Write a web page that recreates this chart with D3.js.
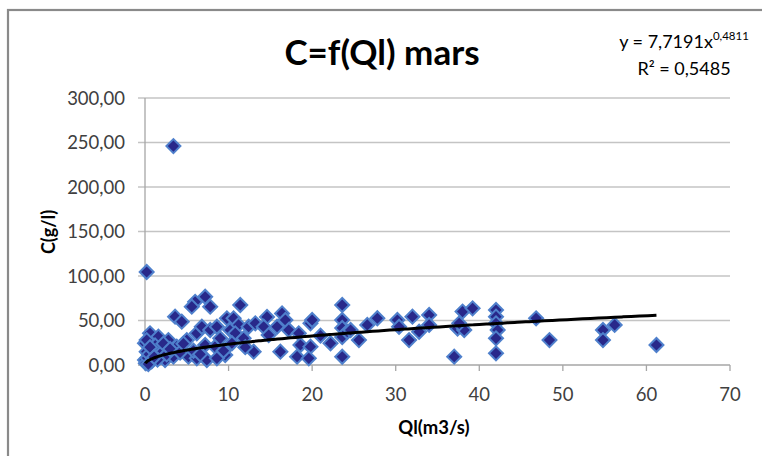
<!DOCTYPE html>
<html>
<head>
<meta charset="utf-8">
<script src="https://cdn.jsdelivr.net/npm/d3@7"></script>
<style>
  body { margin: 0; background: #fff; }
  text { font-family: Lato, "Open Sans", sans-serif; }
</style>
</head>
<body>
<div id="chart"></div>
<script>
// C (g/l) against Ql (m3/s)
const qValues = [
  3.4, 0.2,
  7.2, 6.0, 7.8, 5.6, 3.6, 4.4, 0.6, 1.6, 2.8, 3.8, 5.0, 0.0, 0.2, 0.0, 1.4, 2.4, 3.4, 5.2,
  6.2, 6.8, 7.8, 8.6, 7.2, 8.4, 9.0, 9.6, 9.8, 10.2, 6.2, 7.4, 8.6,
  0.1, 0.3, 0.5, 0.8, 1.0, 1.2, 0.2, 1.8, 2.0, 2.2, 0.6, 1.5, 2.6, 3.0, 4.2, 4.6, 5.8, 6.6, 0.4, 1.1,
  11.4, 10.6, 11.2, 10.8, 12.4, 13.2, 13.0, 14.6, 14.2, 14.8, 16.4, 16.8, 17.2, 16.2, 15.8, 18.4,
  18.2, 18.6, 19.8, 19.8, 19.6, 20.0, 22.2, 10.4, 11.8, 12.0, 9.4,
  23.6, 23.6, 23.6, 23.6, 23.6, 24.2, 25.6, 26.6, 27.8, 30.2, 30.4, 31.6, 32.0, 32.8, 34.0, 34.0,
  37.0, 37.4, 38.0, 38.2, 39.2, 42.0, 42.0, 42.0, 42.2, 42.0, 42.0, 46.8, 48.4, 54.8, 54.8, 56.2,
  61.2, 24.6, 37.6, 21.0
];
const cValues = [
  246, 104.5,
  76.7, 71, 65.5, 65.5, 54.3, 48.7, 35.6, 31.8, 28, 20.6, 28, 24.4, 15, 5.6, 15, 5.6, 9.4, 9.4,
  35.6, 43, 39.3, 43, 22.5, 20.6, 30, 11.2, 52.4, 39.3, 7.5, 5.6, 7.5,
  2, 8, 12, 4, 18, 22, 28, 10, 14, 24, 20, 6, 12, 18, 14, 24, 16, 12, 1, 9,
  67.4, 52.4, 45, 35.6, 43, 46.8, 15, 54, 43, 33.7, 58, 50.6, 39.3, 15, 43, 35.6,
  9.4, 22.5, 46.8, 20.6, 7.5, 50.6, 24.4, 24.4, 30, 20, 16,
  67.4, 50.6, 41.6, 31.5, 9.3, 37.4, 28, 45, 52.5, 50.6, 43, 28, 54.3, 37.4, 56.2, 45,
  9.4, 41, 60, 39.3, 63.7, 61.8, 54.3, 46.8, 39.3, 30, 13.1, 52.4, 28, 39.3, 28, 45,
  22.5, 39.3, 46.8, 33
];
const xTicks = [0, 10, 20, 30, 40, 50, 60, 70];
const yTicks = [0, 50, 100, 150, 200, 250, 300];

// power trend line shown on the chart: y = 7,7191 x^0,4811
const trendA = 7.7191;
const trendB = 0.4811;

const width = 762;
const height = 456;

const svg = d3.select('#chart')
  .append('svg')
  .attr('width', width)
  .attr('height', height);

// outer frame (cropped on right and bottom)
svg.append('rect')
  .attr('x', 8).attr('y', 10)
  .attr('width', 800).attr('height', 500)
  .attr('fill', '#fff')
  .attr('stroke', '#8a8a8a')
  .attr('stroke-width', 2.2);

const xScale = d3.scaleLinear().domain([0, 70]).range([145, 730]);
const yScale = d3.scaleLinear().domain([0, 300]).range([365, 98]);

const fmt = d => d3.format('.2f')(d).replace('.', ',');

// gridlines + y ticks
svg.append('g')
  .selectAll('line')
  .data(yTicks)
  .enter()
  .append('line')
  .attr('x1', 138)
  .attr('x2', xScale(70))
  .attr('y1', d => yScale(d))
  .attr('y2', d => yScale(d))
  .attr('stroke', d => d === 0 ? '#a6a6a6' : '#c4c4c4')
  .attr('stroke-width', 1.3);

// y axis line
svg.append('line')
  .attr('x1', xScale(0)).attr('x2', xScale(0))
  .attr('y1', yScale(300)).attr('y2', yScale(0))
  .attr('stroke', '#a6a6a6')
  .attr('stroke-width', 1.3);

// x ticks
svg.append('g')
  .selectAll('line')
  .data(xTicks)
  .enter()
  .append('line')
  .attr('x1', d => xScale(d))
  .attr('x2', d => xScale(d))
  .attr('y1', yScale(0))
  .attr('y2', yScale(0) + 6)
  .attr('stroke', '#a6a6a6')
  .attr('stroke-width', 1.3);

// tick labels
svg.append('g')
  .selectAll('text')
  .data(yTicks)
  .enter()
  .append('text')
  .attr('x', 125)
  .attr('y', d => yScale(d))
  .attr('dy', '0.36em')
  .attr('text-anchor', 'end')
  .attr('font-size', 18.5)
  .attr('fill', '#404040')
  .text(fmt);

svg.append('g')
  .selectAll('text')
  .data(xTicks)
  .enter()
  .append('text')
  .attr('x', d => xScale(d))
  .attr('y', 401)
  .attr('text-anchor', 'middle')
  .attr('font-size', 18.5)
  .attr('fill', '#404040')
  .text(d => d);

// points
const pts = qValues.map((q, i) => ({ q: q, c: cValues[i] }));

svg.append('g')
  .selectAll('path')
  .data(pts)
  .enter()
  .append('path')
  .attr('d', d3.symbol().type(d3.symbolSquare).size(98))
  .attr('transform', d => `translate(${xScale(d.q)},${yScale(d.c)}) rotate(45)`)
  .attr('fill', '#28288a')
  .attr('stroke', '#4f80cc')
  .attr('stroke-width', 2);

// trend line
const qMin = 0.05;
const qMax = d3.max(qValues);
const trendX = d3.range(0, 121).map(i => qMin + (qMax - qMin) * Math.pow(i / 120, 2));
const line = d3.line()
  .x(q => xScale(q))
  .y(q => yScale(trendA * Math.pow(q, trendB)))
  .curve(d3.curveMonotoneX);

svg.append('path')
  .datum(trendX)
  .attr('d', line)
  .attr('fill', 'none')
  .attr('stroke', '#000')
  .attr('stroke-width', 3);

// titles
svg.append('text')
  .attr('x', 382)
  .attr('y', 65)
  .attr('text-anchor', 'middle')
  .attr('font-size', 35)
  .attr('font-weight', 'bold')
  .attr('fill', '#000')
  .text('C=f(Ql) mars');

svg.append('text')
  .attr('x', 434)
  .attr('y', 434)
  .attr('text-anchor', 'middle')
  .attr('font-size', 18.5)
  .attr('font-weight', 'bold')
  .attr('fill', '#000')
  .text('Ql(m3/s)');

svg.append('text')
  .attr('transform', 'translate(55,232) rotate(-90)')
  .attr('text-anchor', 'middle')
  .attr('font-size', 18)
  .attr('font-weight', 'bold')
  .attr('fill', '#000')
  .text('C(g/l)');

// equation
const eq = svg.append('text')
  .attr('x', 684)
  .attr('y', 48)
  .attr('text-anchor', 'middle')
  .attr('font-size', 18)
  .attr('fill', '#000');
eq.append('tspan').text('y = ' + String(trendA).replace('.', ',') + 'x');
eq.append('tspan')
  .attr('dy', -8)
  .attr('font-size', 11.5)
  .text(String(trendB).replace('.', ','));

svg.append('text')
  .attr('x', 684)
  .attr('y', 75)
  .attr('text-anchor', 'middle')
  .attr('font-size', 18)
  .attr('fill', '#000')
  .text('R² = 0,5485');
</script>
</body>
</html>
